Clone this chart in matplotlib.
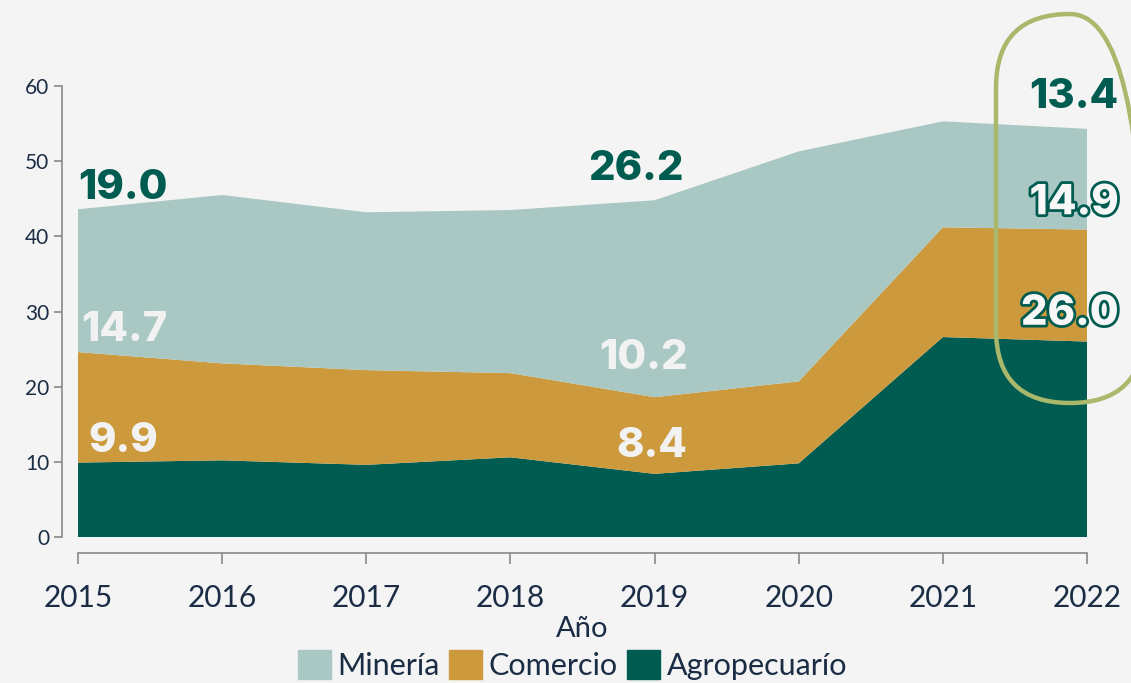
import matplotlib
matplotlib.use('Agg')
import matplotlib.pyplot as plt
import matplotlib.patheffects as pe
from matplotlib.patches import FancyBboxPatch
from matplotlib.transforms import IdentityTransform

years = [2015, 2016, 2017, 2018, 2019, 2020, 2021, 2022]
agropecuario = [9.9, 10.2, 9.6, 10.6, 8.4, 9.8, 26.6, 26.0]
comercio = [14.7, 12.9, 12.6, 11.2, 10.2, 10.9, 14.6, 14.9]
mineria = [19.0, 22.4, 21.0, 21.7, 26.2, 30.6, 14.1, 13.4]
series_names = ['Minería', 'Comercio', 'Agropecuarío']

C_MIN = '#a9c8c3'
C_COM = '#cc9a3c'
C_AGR = '#005c50'
C_TXT = '#1b2d45'
C_LBL = '#f2f2f2'

plt.rcParams['font.family'] = ['Lato', 'DejaVu Sans']

fig = plt.figure(figsize=(11.31, 6.83), dpi=100, facecolor='#f4f4f4')
ax = fig.add_axes([78 / 1131, 1 - 537 / 683, (1087 - 78) / 1131, (537 - 86) / 683])
ax.set_facecolor('none')

ax.stackplot(years, agropecuario, comercio, mineria,
             colors=[C_AGR, C_COM, C_MIN], linewidth=0)
ax.set_xlim(2015, 2022)
ax.set_ylim(0, 60)

for side in ('top', 'right'):
    ax.spines[side].set_visible(False)
ax.spines['left'].set_position(('outward', 11.5))
ax.spines['bottom'].set_position(('outward', 11.5))
for side in ('left', 'bottom'):
    ax.spines[side].set_color('#888888')
    ax.spines[side].set_linewidth(1.2)

ax.set_xticks(years)
ax.set_yticks(range(0, 61, 10))
ax.tick_params(axis='x', colors='#888888', labelcolor=C_TXT, labelsize=21.5,
               length=8, width=1.2, pad=14)
ax.tick_params(axis='y', colors='#888888', labelcolor=C_TXT, labelsize=15,
               length=6, width=1.2, pad=3)
ax.set_xlabel('Año', fontsize=21, color=C_TXT, labelpad=3)

# value labels (first, middle and last year)
big = dict(fontsize=30, fontweight='heavy', va='center', family=['Inter', 'Lato'])
ax.text(2015.0, 46.4, f'{mineria[0]:.1f}', color=C_AGR, ha='left', **big)
ax.text(2015.02, 27.5, f'{comercio[0]:.1f}', color=C_LBL, ha='left', **big)
ax.text(2015.07, 12.8, f'{agropecuario[0]:.1f}', color=C_LBL, ha='left', **big)
ax.text(2018.87, 49.0, f'{mineria[4]:.1f}', color=C_AGR, ha='center', **big)
ax.text(2018.92, 23.8, f'{comercio[4]:.1f}', color=C_LBL, ha='center', **big)
ax.text(2018.98, 12.1, f'{agropecuario[4]:.1f}', color=C_LBL, ha='center', **big)

stroke = [pe.withStroke(linewidth=4, foreground=C_AGR)]
ax.text(2022.22, 58.6, f'{mineria[-1]:.1f}', color=C_AGR, ha='right',
        clip_on=False, **big)
ax.text(2022.22, 44.4, f'{comercio[-1]:.1f}', color='#f7f7f7', ha='right',
        clip_on=False, path_effects=stroke, **big)
ax.text(2022.22, 29.7, f'{agropecuario[-1]:.1f}', color='#f7f7f7', ha='right',
        clip_on=False, path_effects=stroke, **big)

# rounded highlight around 2022
ring = FancyBboxPatch((996 + 72, 683 - 403 + 72), 148 - 144, 389 - 144,
                      boxstyle='round,pad=72,rounding_size=74',
                      transform=IdentityTransform(),
                      facecolor='none', edgecolor='#a9b86a', linewidth=3.2)
fig.patches.append(ring)

handles = [plt.Rectangle((0, 0), 1, 1, color=c) for c in (C_MIN, C_COM, C_AGR)]
fig.legend(handles, series_names, loc='center', bbox_to_anchor=(0.506, 1 - 665 / 683),
           ncol=3, frameon=False, fontsize=22, labelcolor=C_TXT,
           handlelength=1.1, handleheight=1.1, handletextpad=0.2, columnspacing=0.3)

fig.savefig('out.png', dpi=100, facecolor=fig.get_facecolor())
